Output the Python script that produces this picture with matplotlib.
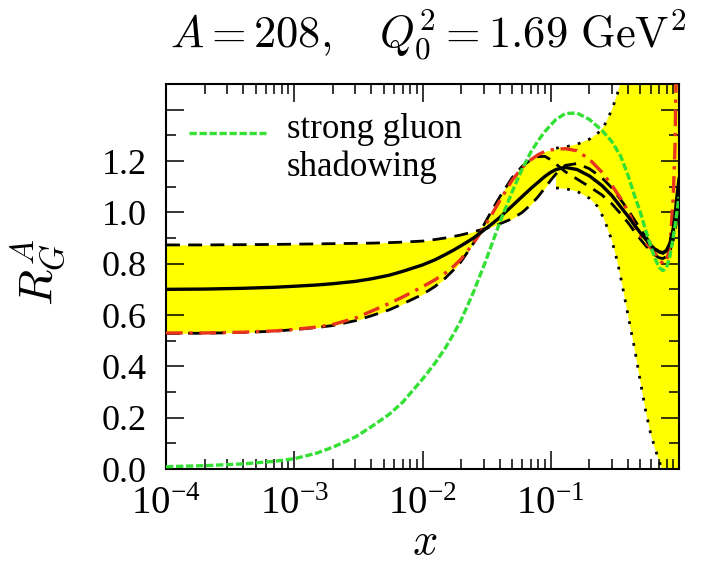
import numpy as np
import matplotlib
matplotlib.use("Agg")
import matplotlib.pyplot as plt
from matplotlib.ticker import FixedLocator, LogLocator, NullFormatter
from matplotlib.legend_handler import HandlerLine2D

plt.rcParams['font.family'] = ['Liberation Serif', 'DejaVu Serif']
plt.rcParams['mathtext.fontset'] = 'cm'

# ---- data ----
x = [1e-4, 2e-4, 4e-4, 7e-4, 1e-3, 1.5e-3, 2e-3, 3e-3, 4e-3, 5.5e-3, 7e-3,
     0.01, 0.0125, 0.015, 0.0175, 0.02, 0.025, 0.03, 0.035, 0.04, 0.05, 0.06,
     0.07, 0.08, 0.09, 0.1, 0.11, 0.13, 0.16, 0.2, 0.25, 0.3, 0.35, 0.4, 0.45,
     0.5, 0.55, 0.6, 0.65, 0.7, 0.75, 0.8, 0.85, 0.9, 0.93, 0.96, 1.0]

central = [0.700, 0.701, 0.704, 0.708, 0.712, 0.717, 0.722, 0.731, 0.741, 0.755,
           0.770, 0.795, 0.815, 0.835, 0.853, 0.870, 0.900, 0.930, 0.956, 0.980,
           1.025, 1.062, 1.093, 1.118, 1.140, 1.156, 1.167, 1.175, 1.167, 1.142,
           1.105, 1.065, 1.022, 0.985, 0.950, 0.920, 0.895, 0.873, 0.856, 0.846,
           0.843, 0.852, 0.880, 0.935, 0.985, 1.055, 1.130]

red_dd = [0.530, 0.530, 0.533, 0.538, 0.544, 0.553, 0.563, 0.588, 0.615, 0.645,
          0.670, 0.710, 0.737, 0.763, 0.790, 0.818, 0.880, 0.940, 0.995, 1.045,
          1.125, 1.175, 1.205, 1.225, 1.237, 1.243, 1.246, 1.248, 1.240, 1.207,
          1.157, 1.105, 1.055, 1.005, 0.950, 0.910, 0.882, 0.862, 0.840, 0.816,
          0.800, 0.810, 0.870, 1.050, 1.250, 1.700, 2.500]

dash_b = [0.528, 0.529, 0.532, 0.537, 0.543, 0.551, 0.559, 0.578, 0.597, 0.620,
          0.643, 0.680, 0.711, 0.743, 0.776, 0.808, 0.880, 0.950, 1.010, 1.060,
          1.135, 1.180, 1.205, 1.217, 1.218, 1.205, 1.188, 1.158, 1.130, 1.100,
          1.068, 1.033, 0.995, 0.960, 0.925, 0.895, 0.870, 0.850, 0.833, 0.823,
          0.820, 0.828, 0.850, 0.890, 0.925, 0.970, 1.030]

dash_a = [0.873, 0.873, 0.874, 0.875, 0.876, 0.877, 0.878, 0.879, 0.880, 0.882,
          0.884, 0.888, 0.894, 0.900, 0.906, 0.912, 0.924, 0.935, 0.945, 0.955,
          0.975, 1.000, 1.030, 1.062, 1.095, 1.125, 1.150, 1.183, 1.190, 1.170,
          1.135, 1.095, 1.050, 1.010, 0.970, 0.935, 0.905, 0.880, 0.860, 0.846,
          0.840, 0.850, 0.875, 0.920, 0.960, 1.010, 1.100]

green = [0.009, 0.013, 0.020, 0.030, 0.040, 0.062, 0.085, 0.125, 0.165, 0.213,
         0.260, 0.350, 0.412, 0.470, 0.527, 0.580, 0.690, 0.790, 0.880, 0.960,
         1.080, 1.170, 1.235, 1.280, 1.315, 1.340, 1.362, 1.385, 1.387, 1.362,
         1.320, 1.275, 1.220, 1.145, 1.065, 1.000, 0.930, 0.870, 0.820, 0.785,
         0.773, 0.785, 0.830, 0.900, 0.945, 0.995, 1.060]

x_hi = [0.11, 0.13, 0.16, 0.2, 0.23, 0.26, 0.3, 0.33, 0.36, 0.4, 0.45, 0.5,
        0.55, 0.6, 0.65, 0.7, 0.75, 0.8, 0.9, 1.0]
dot_upper = [1.250, 1.255, 1.265, 1.285, 1.305, 1.335, 1.400, 1.460, 1.530, 1.620,
             1.750, 1.850, 1.950, 2.050, 2.150, 2.250, 2.350, 2.450, 2.650, 2.850]
dot_lower = [1.095, 1.092, 1.082, 1.055, 1.025, 0.975, 0.890, 0.810, 0.720, 0.600,
             0.470, 0.340, 0.225, 0.140, 0.080, 0.030, -0.010, -0.100, -0.300, -0.500]

x_split = 0.11

yticks = [0.0, 0.2, 0.4, 0.6, 0.8, 1.0, 1.2, 1.4]
ytick_labels = ['0.0', '0.2', '0.4', '0.6', '0.8', '1.0', '1.2', '']
xticks = [1e-4, 1e-3, 1e-2, 1e-1]
xtick_labels = [r'$\mathregular{10^{-4}}$', r'$\mathregular{10^{-3}}$',
                r'$\mathregular{10^{-2}}$', r'$\mathregular{10^{-1}}$']


class RaisedLine(HandlerLine2D):
    def __init__(self, shift, **kw):
        super().__init__(**kw)
        self.shift = shift

    def create_artists(self, legend, orig_handle, xdescent, ydescent, width,
                       height, fontsize, trans):
        arts = super().create_artists(legend, orig_handle, xdescent, ydescent,
                                      width, height, fontsize, trans)
        for a in arts:
            a.set_ydata(np.asarray(a.get_ydata(), dtype=float) + self.shift * fontsize)
        return arts


# ---- figure ----
fig = plt.figure(figsize=(7.06, 5.69), dpi=100)
ax = fig.add_axes([166/706, 100/569, 513/706, 385/569])

xa = np.array(x)
stack = np.array([dash_a, dash_b, red_dd, central])
lo_env = stack.min(axis=0)
hi_env = stack.max(axis=0)
m = xa <= x_split
ax.fill_between(xa[m], lo_env[m], hi_env[m], color='#ffff00', lw=0, zorder=1)
ax.fill_between(x_hi, dot_lower, dot_upper, color='#ffff00', lw=0, zorder=1)

ax.plot(x_hi, dot_upper, color='black', lw=2.0, dashes=(1, 3), zorder=2)
ax.plot(x_hi, dot_lower, color='black', lw=2.0, dashes=(1, 3), zorder=2)
ax.plot(x, dash_a, color='black', lw=2.0, dashes=(5, 3), zorder=3)
ax.plot(x, dash_b, color='black', lw=2.0, dashes=(5, 3), zorder=3)
ax.plot(x, red_dd, color='#e8341c', lw=2.4, dashes=(5, 2, 1, 2), zorder=4)
ax.plot(x, central, color='black', lw=2.4, zorder=5)
gl, = ax.plot(x, green, color='#33e033', lw=2.4, dashes=(2.2, 0.8), zorder=6,
              label='strong gluon\nshadowing')

ax.set_xscale('log')
ax.set_xlim(1e-4, 1.0)
ax.set_ylim(0.0, 1.5)

ax.xaxis.set_major_locator(FixedLocator(xticks))
ax.set_xticklabels(xtick_labels)
ax.xaxis.set_minor_locator(LogLocator(base=10, subs=np.arange(2, 10)))
ax.xaxis.set_minor_formatter(NullFormatter())
ax.set_yticks(yticks)
ax.set_yticklabels(ytick_labels)
ax.yaxis.set_minor_locator(FixedLocator(np.arange(0.1, 1.5, 0.2)))

ax.tick_params(which='both', direction='in', top=True, right=True, width=1.1)
ax.tick_params(which='major', length=13)
ax.tick_params(which='minor', length=7)
ax.tick_params(axis='y', labelsize=26, pad=14)
ax.tick_params(axis='x', labelsize=28, pad=12)
for s in ax.spines.values():
    s.set_linewidth(1.5)

leg = ax.legend(loc='upper left', frameon=False, fontsize=25, handlelength=2.2,
                handletextpad=0.6, borderaxespad=0.2, bbox_to_anchor=(0.005, 0.98),
                handler_map={gl: RaisedLine(0.45)})

fig.text(428/706, 1 - 35/569, r'$A = 208,\quad Q_0^2 = 1.69\ \mathrm{GeV}^2$',
         ha='center', va='center', fontsize=32)
fig.text(38/706, 1 - 272/569, r'$R_G^A$', rotation=90, ha='center', va='center', fontsize=34)
fig.text(425/706, 1 - 543/569, r'$x$', ha='center', va='center', fontsize=32)

fig.savefig('out.png', dpi=100)
